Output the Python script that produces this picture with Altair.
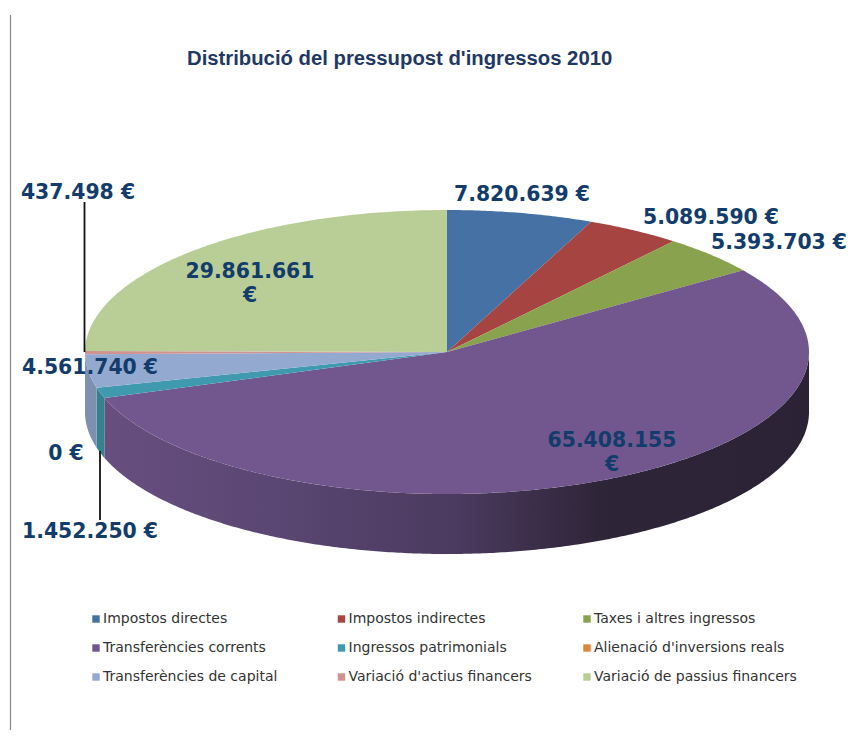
import math
import altair as alt

# --- data -------------------------------------------------------------
categories = ["Impostos directes", "Impostos indirectes", "Taxes i altres ingressos",
              "Transferències corrents", "Ingressos patrimonials", "Alienació d'inversions reals",
              "Transferències de capital", "Variació d'actius financers", "Variació de passius financers"]
values = [7820639, 5089590, 5393703, 65408155, 1452250, 0, 4561740, 437498, 29861661]
top_colors = ["#4571a5", "#a64442", "#88a24e", "#71578d", "#3f9ab0", "#dd8439", "#93a9cf", "#d09392", "#b9cd96"]
wall_colors = ["#38597f", "#803533", "#6a7f3d", "#5b4672", "#35818f", "#b06a2e", "#7d90b0", "#a87675", "#94a478"]
label_texts = ["7.820.639 €", "5.089.590 €", "5.393.703 €", "65.408.155\n€", "1.452.250 €",
               "0 €", "4.561.740 €", "437.498 €", "29.861.661\n€"]

# --- layout (page pixels) ---------------------------------------------
CX, CY, RX, RY, DEPTH = 447.0, 352.0, 362.0, 142.0, 60.0
label_x = [522, 711, 779, 612, 90, 66, 90, 78, 250]
label_y = [195, 218, 243, 441, 532, 454, 368, 193, 272]
total = sum(values)


def rim(a0, a1, dy=0.0):
    n = max(2, int(abs(a1 - a0) * 2) + 2)
    pts = []
    for i in range(n):
        a = math.radians(a0 + (a1 - a0) * i / (n - 1))
        pts.append([CX + RX * math.sin(a), CY - RY * math.cos(a) + dy])
    return pts


def feature(coords, name, kind="Polygon"):
    geom = {"type": kind, "coordinates": [coords] if kind == "Polygon" else coords}
    return {"type": "Feature", "geometry": geom, "properties": {"name": name}}


tops, walls = [], []
cum = 0.0
for name, v in zip(categories, values):
    a0 = cum / total * 360
    cum += v
    a1 = cum / total * 360
    ring = [[CX, CY]] + rim(a0, a1) + [[CX, CY]]
    tops.append(feature(ring, name))
    lo, hi = max(a0, 90), min(a1, 270)
    if hi > lo:
        w = rim(lo, hi) + rim(hi, lo, DEPTH)
        walls.append((name, feature(w + [w[0]], name)))

wall_by_name = dict(walls)
purple = "Transferències corrents"
flat_walls = [f for n, f in walls if n != purple]

wall_flat = alt.Chart(alt.Data(values=flat_walls)).mark_geoshape(stroke=None).encode(
    fill=alt.Fill("properties.name:N", legend=None,
                  scale=alt.Scale(domain=categories, range=wall_colors))
)
wall_grad = alt.Chart(alt.Data(values=[wall_by_name[purple]])).mark_geoshape(
    fill=alt.Gradient(
        gradient="linear", x1=0, x2=1, y1=0, y2=0,
        stops=[alt.GradientStop(offset=0, color="#674f80"),
               alt.GradientStop(offset=0.25, color="#5a4672"),
               alt.GradientStop(offset=0.5, color="#4b3a5f"),
               alt.GradientStop(offset=0.7, color="#2f2539"),
               alt.GradientStop(offset=1, color="#2b2236")]),
    stroke=None,
).encode()

top_layer = alt.Chart(alt.Data(values=tops)).mark_geoshape(stroke=None).encode(
    color=alt.Color(
        "properties.name:N",
        scale=alt.Scale(domain=categories, range=top_colors),
        legend=alt.Legend(
            title=None, orient="none", legendX=81, legendY=604, columns=3, gridAlign="all",
            direction="horizontal",
            columnPadding=28.5, rowPadding=15, symbolType="square", symbolSize=55, symbolStrokeWidth=0,
            labelFont="DejaVu Sans", labelFontSize=14, labelColor="#333333", labelLimit=300,
            labelOffset=0, symbolOffset=0,
        ),
    )
)

leaders = alt.Chart(alt.Data(values=[
    feature([[84.5, 202], [84.5, 352]], "a", "LineString"),
    feature([[100, 451], [100, 520]], "b", "LineString"),
])).mark_geoshape(filled=False, stroke="#111111", strokeWidth=1.8)

frame = alt.Chart(alt.Data(values=[
    feature([[10.5, 15], [10.5, 735]], "frame", "LineString"),
])).mark_geoshape(filled=False, stroke="#8c8c8c", strokeWidth=1.2)

label_rows = [{"t": t, "lon": x, "lat": y} for t, x, y in zip(label_texts, label_x, label_y)]
labels = alt.Chart(alt.Data(values=label_rows)).mark_text(
    font="DejaVu Sans", fontWeight="bold", fontSize=20.4, color="#123c6b",
    align="center", baseline="middle", lineBreak="\n", lineHeight=24,
).encode(longitude="lon:Q", latitude="lat:Q", text="t:N")

chart = alt.layer(frame, wall_flat, wall_grad, top_layer, leaders, labels).resolve_scale(
    color="independent", fill="independent"
).project(type="identity", scale=1, translate=[-8, -8]).properties(
    width=839, height=722,
    padding=0,
    autosize=alt.AutoSizeParams(type="none"),
    background="white",
    title=alt.TitleParams("Distribució del pressupost d'ingressos 2010", font="Liberation Sans",
                          fontSize=20.3, fontWeight="bold", color="#1f3864", anchor="start", dx=179,
                          offset=-61),
).configure_view(stroke=None)

chart.save("out.html", embed_options={"renderer": "svg", "actions": False})
